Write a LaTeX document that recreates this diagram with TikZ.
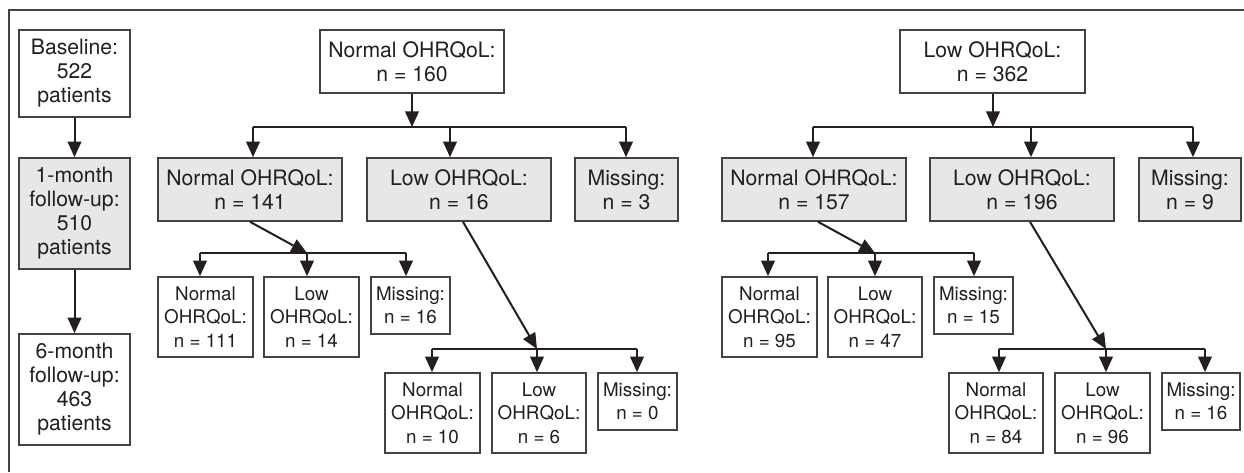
\documentclass[tikz,border=0pt]{standalone}
\usepackage{fontspec}
\setmainfont{TeX Gyre Heros}
\usetikzlibrary{arrows.meta}
\definecolor{boxgray}{HTML}{E6E7E8}
\definecolor{ink}{HTML}{231F20}
\begin{document}
\begin{tikzpicture}[x=0.5pt,y=-0.5pt,
  sz/.style 2 args={minimum width=#1*0.5pt,minimum height=#2*0.5pt},
  bigtxt/.style={font=\fontsize{10.6}{12}\selectfont},
  smalltxt/.style={font=\fontsize{9.4}{11.75}\selectfont},
  wbox/.style={draw=ink!85,line width=0.8pt,fill=white,inner sep=0pt,align=center,text=ink,bigtxt},
  gbox/.style={wbox,fill=boxgray},
  sbox/.style={wbox,smalltxt},
  arr/.style={draw=ink,line width=1pt,-{Triangle[length=7.8pt,width=6.8pt]}},
  ln/.style={draw=ink,line width=1pt},
  frame/.style={draw=ink!85,line width=0.8pt}]
\fill[white] (0,0) rectangle (1244,472);
\useasboundingbox (0,0) rectangle (1244,472);
\draw[frame] (9,472) -- (9,10) -- (1244,10);

% left column
\node[wbox,sz={111}{87}] (base) at (74.5,73.5) {Baseline:\\522\\patients};
\node[gbox,sz={111}{111}] (m1) at (74.5,213.5) {1-month\\follow-up:\\510\\patients};
\node[wbox,sz={111}{111}] (m6) at (74.5,389.5) {6-month\\follow-up:\\463\\patients};
\draw[arr] (base) -- (m1);
\draw[arr] (m1) -- (m6);

% left tree
\node[wbox,sz={184}{63}] (N160) at (412,61.5) {Normal OHRQoL:\\n = 160};
\node[gbox,sz={184}{63}] (N141) at (250,189.5) {Normal OHRQoL:\\n = 141};
\node[gbox,sz={184}{63}] (L16) at (459,189.5) {Low OHRQoL:\\n = 16};
\node[gbox,sz={103}{63}] (M3) at (626.5,189.5) {Missing:\\n = 3};
\coordinate (jA) at (412,127);
\coordinate (jA1) at (253,127);
\coordinate (jA2) at (450,127);
\coordinate (jA3) at (626,127);
\draw[arr] (N160.south -| jA) -- (jA);
\draw[ln] (jA1) -- (jA3);
\draw[arr] (jA1) -- (jA1 |- N141.north);
\draw[arr] (jA2) -- (jA2 |- L16.north);
\draw[arr] (jA3) -- (jA3 |- M3.north);

\node[sbox,sz={95}{80}] (N111) at (205.5,317) {Normal\\OHRQoL:\\n = 111};
\node[sbox,sz={95}{80}] (L14) at (311.5,317) {Low\\OHRQoL:\\n = 14};
\node[sbox,sz={79}{57}] (M16a) at (410.5,305.5) {Missing:\\n = 16};
\coordinate (jB) at (307,253);
\coordinate (jB1) at (200,253);
\coordinate (jB3) at (406,253);
\draw[arr] (N141.south) -- (jB);
\draw[ln] (jB1) -- (jB3);
\draw[arr] (jB1) -- (jB1 |- N111.north);
\draw[arr] (jB) -- (jB |- L14.north);
\draw[arr] (jB3) -- (jB3 |- M16a.north);

\node[sbox,sz={95}{80}] (N10) at (432.5,413) {Normal\\OHRQoL:\\n = 10};
\node[sbox,sz={94}{80}] (L6) at (539,413) {Low\\OHRQoL:\\n = 6};
\node[sbox,sz={79}{57}] (M0) at (637.5,401.5) {Missing:\\n = 0};
\coordinate (jC) at (537,349);
\coordinate (jC1) at (432,349);
\coordinate (jC3) at (637,349);
\draw[arr] ([xshift=2pt]L16.south) -- (jC);
\draw[ln] (jC1) -- (jC3);
\draw[arr] (jC1) -- (jC1 |- N10.north);
\draw[arr] (jC) -- (jC |- L6.north);
\draw[arr] (jC3) -- (jC3 |- M0.north);

% right tree
\node[wbox,sz={185}{63}] (L362) at (992.5,61.5) {Low OHRQoL:\\n = 362};
\node[gbox,sz={184}{63}] (N157) at (814,189.5) {Normal OHRQoL:\\n = 157};
\node[gbox,sz={184}{63}] (L196) at (1022,189.5) {Low OHRQoL:\\n = 196};
\node[gbox,sz={102}{63}] (M9) at (1190,189.5) {Missing:\\n = 9};
\coordinate (jD) at (993,127);
\coordinate (jD1) at (813,127);
\coordinate (jD2) at (1031,127);
\coordinate (jD3) at (1193,127);
\draw[arr] (L362.south -| jD) -- (jD);
\draw[ln] (jD1) -- (jD3);
\draw[arr] (jD1) -- (jD1 |- N157.north);
\draw[arr] (jD2) -- (jD2 |- L196.north);
\draw[arr] (jD3) -- (jD3 |- M9.north);

\node[sbox,sz={95}{80}] (N95) at (769.5,317) {Normal\\OHRQoL:\\n = 95};
\node[sbox,sz={94}{80}] (L47) at (875,317) {Low\\OHRQoL:\\n = 47};
\node[sbox,sz={79}{57}] (M15) at (973.5,305.5) {Missing:\\n = 15};
\coordinate (jE) at (875,253);
\coordinate (jE1) at (768,253);
\coordinate (jE3) at (974,253);
\draw[arr] ([xshift=2pt]N157.south) -- (jE);
\draw[ln] (jE1) -- (jE3);
\draw[arr] (jE1) -- (jE1 |- N95.north);
\draw[arr] (jE) -- (jE |- L47.north);
\draw[arr] (jE3) -- (jE3 |- M15.north);

\node[sbox,sz={94}{80}] (N84) at (996,413) {Normal\\OHRQoL:\\n = 84};
\node[sbox,sz={95}{80}] (L96) at (1102.5,413) {Low\\OHRQoL:\\n = 96};
\node[sbox,sz={78}{57}] (M16b) at (1201,401.5) {Missing:\\n = 16};
\coordinate (jF) at (1106,349);
\coordinate (jF1) at (999,349);
\coordinate (jF3) at (1205,349);
\draw[arr] ([xshift=4pt]L196.south) -- (jF);
\draw[ln] (jF1) -- (jF3);
\draw[arr] (jF1) -- (jF1 |- N84.north);
\draw[arr] (jF) -- (jF |- L96.north);
\draw[arr] (jF3) -- (jF3 |- M16b.north);
\end{tikzpicture}
\end{document}
